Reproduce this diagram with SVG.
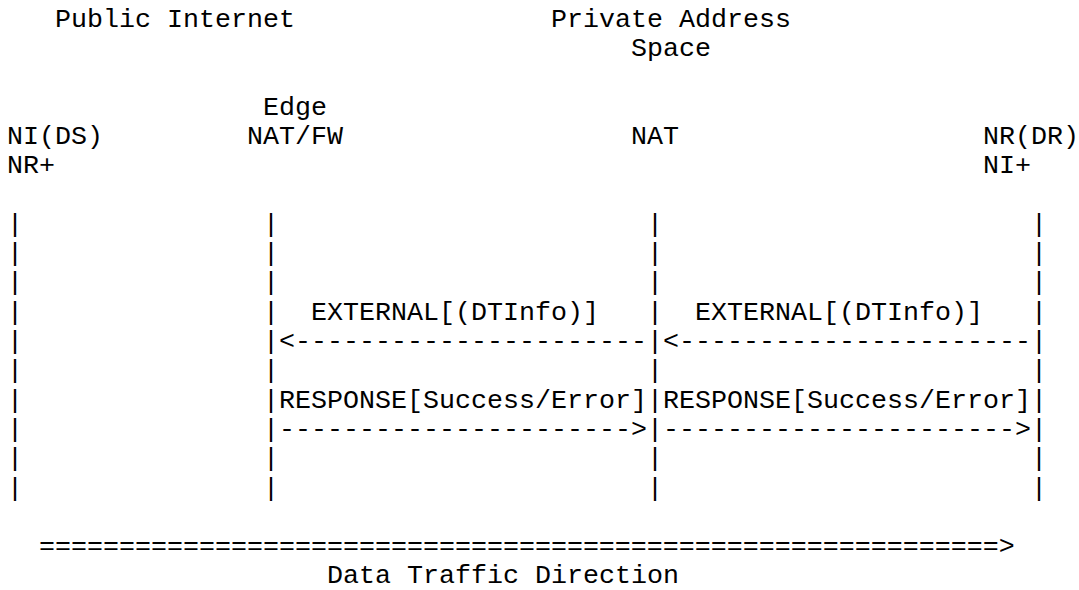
<svg xmlns="http://www.w3.org/2000/svg" width="1079" height="590" viewBox="0 0 1079 590">
<style>
text{font-family:"Liberation Mono","Courier New",monospace;font-size:26.667px;fill:#000;white-space:pre}
</style>
<rect width="1079" height="590" fill="#fff"/>
<g id="region-public"><text x="55" y="26.7">Public Internet</text></g>
<g id="region-private"><text x="551" y="26.7">Private Address</text><text x="631" y="56">Space</text></g>
<g id="node-ni-ds"><text x="7" y="143.9">NI(DS)</text><text x="7" y="173.2">NR+</text></g>
<g id="node-edge-nat-fw"><text x="263" y="114.6">Edge</text><text x="247" y="143.9">NAT/FW</text></g>
<g id="node-nat"><text x="631" y="143.9">NAT</text></g>
<g id="node-nr-dr"><text x="983" y="143.9">NR(DR)</text><text x="983" y="173.2">NI+</text></g>
<g id="connectors">
<g id="lifelines">
<text x="7 7 7 7 7 7 7 7 7 7" y="231.8 261.1 290.4 319.7 349 378.3 407.6 436.9 466.2 495.5">||||||||||</text>
<text x="263 263 263 263 263 263 263 263 263 263" y="231.8 261.1 290.4 319.7 349 378.3 407.6 436.9 466.2 495.5">||||||||||</text>
<text x="647 647 647 647 647 647 647 647 647 647" y="231.8 261.1 290.4 319.7 349 378.3 407.6 436.9 466.2 495.5">||||||||||</text>
<text x="1031 1031 1031 1031 1031 1031 1031 1031 1031 1031" y="231.8 261.1 290.4 319.7 349 378.3 407.6 436.9 466.2 495.5">||||||||||</text>
</g>
<g id="msg-external-1"><text x="311" y="319.7">EXTERNAL[(DTInfo)]</text><text x="279" y="349">&lt;----------------------</text></g>
<g id="msg-external-2"><text x="695" y="319.7">EXTERNAL[(DTInfo)]</text><text x="663" y="349">&lt;----------------------</text></g>
<g id="msg-response-1"><text x="279" y="407.6">RESPONSE[Success/Error]</text><text x="279" y="436.9">----------------------&gt;</text></g>
<g id="msg-response-2"><text x="663" y="407.6">RESPONSE[Success/Error]</text><text x="663" y="436.9">----------------------&gt;</text></g>
<g id="data-direction"><text x="39" y="554.1">============================================================&gt;</text><text x="327" y="583.4">Data Traffic Direction</text></g>
</g>
</svg>
